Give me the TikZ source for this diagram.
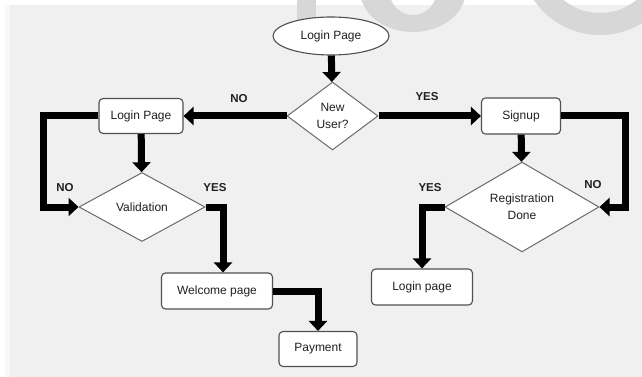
\documentclass[tikz,border=0pt]{standalone}
\usepackage{fontspec}
\setmainfont{Liberation Sans}
\usetikzlibrary{shapes.geometric,arrows.meta}
\definecolor{panelgray}{HTML}{F0F0F0}
\definecolor{stripgray}{HTML}{F8F8F8}
\definecolor{markgray}{HTML}{D7D7D7}
\definecolor{edgegray}{HTML}{505050}
\definecolor{txtgray}{HTML}{202020}

\begin{document}
\begin{tikzpicture}[x=1pt,y=-1pt,
  box/.style={draw=edgegray,line width=1.1pt,rounded corners=4pt,fill=white,
    text=txtgray,font=\fontsize{12}{17}\selectfont,inner sep=0pt},
  decision/.style={diamond,draw=edgegray!85,line width=1pt,fill=white,
    text=txtgray,font=\fontsize{12}{17}\selectfont,align=center,inner sep=0pt},
  flow/.style={line width=7pt,-{Triangle[length=10pt,width=18pt]}},
  answer/.style={font=\fontsize{11.5}{14}\selectfont\bfseries,text=txtgray}]
\useasboundingbox (0,0) rectangle (642,377);

\fill[panelgray] (5,5) rectangle (642,377);
\fill[stripgray] (5,5) rectangle (10,377);

\begin{scope}
  \clip (0,0) rectangle (642,40);
  \fill[markgray] (297,0) rectangle (316,33);
  \fill[markgray,even odd rule] (413,-10) ellipse [x radius=53,y radius=42]
    (413,-10) ellipse [x radius=24,y radius=25];
  \fill[markgray,even odd rule] (600,-45) circle [radius=80]
    (600,-45) circle [radius=58];
\end{scope}

\node[ellipse,draw=edgegray,line width=1.1pt,fill=white,text=txtgray,
  font=\fontsize{12}{17}\selectfont,inner sep=0pt,
  minimum width=116pt,minimum height=38pt] (start) at (331,36) {Login Page};

\node[decision,minimum width=91pt,minimum height=68pt] (newuser) at (332.5,116) {New\\User?};

  \node[box,minimum width=84pt,minimum height=35pt] (login) at (141,116) {Login Page};
  \node[decision,minimum width=126pt,minimum height=69pt] (valid) at (142,207) {Validation};
  \node[box,minimum width=111pt,minimum height=36pt] (welcome) at (217,291) {Welcome page};
  \node[box,minimum width=78pt,minimum height=35pt] (payment) at (318,349) {Payment};

  \node[box,minimum width=79pt,minimum height=36pt] (signup) at (521,116) {Signup};
  \node[decision,minimum width=154pt,minimum height=69pt] (regdone) at (522,207) {Registration\\Done};
  \node[box,minimum width=101pt,minimum height=36pt] (relogin) at (422,287) {Login page};

\coordinate (lloop) at (43,116);
\coordinate (vturn) at (223,207);
\coordinate (rloop) at (625,116);

\draw[flow] (start) -- (newuser);
\draw[flow] (newuser) -- (login);
\draw[flow] (newuser) -- (signup);

\draw[flow] (login) -- (valid);
\draw[flow] (login.west) -- (lloop) |- (valid.west);
\draw[flow] (valid.east) -- (vturn) -- (vturn |- welcome.north);
\draw[flow] (welcome.east) -| (payment.north);

\draw[flow] (signup) -- (regdone);
\draw[flow] (signup.east) -- (rloop) |- (regdone.east);
\draw[flow] (regdone.west) -| (relogin.north);

\node[answer] (nonew) at (239,99) {NO};
\node[answer] (yesnew) at (427,97) {YES};
\node[answer] (noval) at (65,188) {NO};
\node[answer] (yesval) at (215,188) {YES};
\node[answer] (noreg) at (593,185) {NO};
\node[answer] (yesreg) at (430,188) {YES};

\end{tikzpicture}
\end{document}
